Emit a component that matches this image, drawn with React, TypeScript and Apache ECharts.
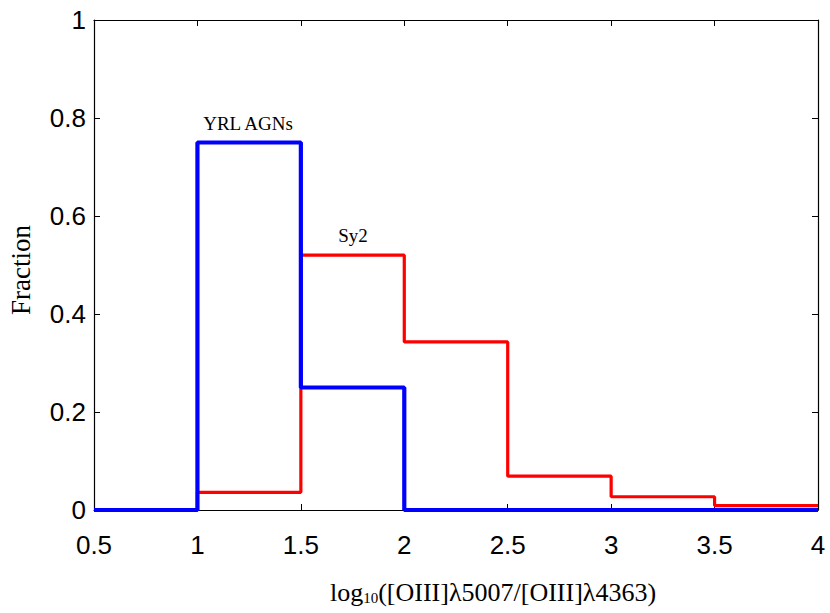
import React, { useEffect, useRef } from "react";
import * as echarts from "echarts";

const binEdges = [0.5, 1, 1.5, 2, 2.5, 3, 3.5, 4];
const yrlFractions = [0, 0.75, 0.25, 0, 0, 0, 0];
const sy2Fractions = [0, 0.036, 0.52, 0.343, 0.069, 0.027, 0.009];
const xTicks = [0.5, 1, 1.5, 2, 2.5, 3, 3.5, 4];
const yTicks = [0, 0.2, 0.4, 0.6, 0.8, 1];

function stepPoints(vals: number[]) {
  const pts: number[][] = vals.map((v, i) => [binEdges[i], v]);
  pts.push([binEdges[binEdges.length - 1], vals[vals.length - 1]]);
  return pts;
}

const sans = "Liberation Sans, Arial, sans-serif";
const serif = "Liberation Serif, Times New Roman, serif";

export default function App() {
  const ref = useRef<HTMLDivElement>(null);
  useEffect(() => {
    if (!ref.current) return;
    const chart = echarts.init(ref.current, undefined, { renderer: "svg" });
    const fmt = (v: number) => String(Math.round(v * 10) / 10);
    const axisCommon = {
      axisLine: { show: true, onZero: false, lineStyle: { color: "#000", width: 1.2 } },
      axisTick: { show: true, inside: true, length: 6, lineStyle: { color: "#000", width: 1 } },
      splitLine: { show: false },
    };
    chart.setOption({
      animation: false,
      backgroundColor: "#fff",
      grid: { left: 94, right: 12, top: 20, bottom: 103, containLabel: false },
      xAxis: [
        {
          type: "value", min: 0.5, max: 4, interval: 0.5, position: "bottom",
          ...axisCommon,
          axisLabel: {
            show: true, margin: 22, fontSize: 26, color: "#000", fontFamily: sans,
            formatter: (v: number) => (xTicks.includes(v) ? fmt(v) : ""),
          },
        },
        {
          type: "value", min: 0.5, max: 4, interval: 0.5, position: "top",
          ...axisCommon,
          axisLabel: { show: false },
        },
      ],
      yAxis: [
        {
          type: "value", min: 0, max: 1, interval: 0.2, position: "left",
          ...axisCommon,
          axisLabel: {
            show: true, margin: 8, fontSize: 26, color: "#000", fontFamily: sans,
            formatter: (v: number) => (yTicks.some((t) => Math.abs(t - v) < 1e-9) ? fmt(v) : ""),
          },
        },
        {
          type: "value", min: 0, max: 1, interval: 0.2, position: "right",
          ...axisCommon,
          axisLabel: { show: false },
        },
      ],
      series: [
        {
          type: "line", name: "Sy2", step: "end", data: stepPoints(sy2Fractions),
          symbol: "none", lineStyle: { color: "#ff0000", width: 3.2 },
          xAxisIndex: 0, yAxisIndex: 0, z: 2,
        },
        {
          type: "line", name: "YRL AGNs", step: "end", data: stepPoints(yrlFractions),
          symbol: "none", lineStyle: { color: "#0000ff", width: 4.2 },
          xAxisIndex: 0, yAxisIndex: 0, z: 3,
        },
      ],
      graphic: [
        {
          type: "text", x: 248, y: 123,
          style: { text: "YRL AGNs", fontFamily: serif, fontSize: 19, fill: "#000", align: "center", verticalAlign: "middle" },
        },
        {
          type: "text", x: 353, y: 235,
          style: { text: "Sy2", fontFamily: serif, fontSize: 19, fill: "#000", align: "center", verticalAlign: "middle" },
        },
        {
          type: "text", x: 21, y: 270, rotation: Math.PI / 2,
          style: { text: "Fraction", fontFamily: serif, fontSize: 27, fill: "#000", align: "center", verticalAlign: "middle" },
        },
        {
          type: "text", x: 493, y: 590,
          style: {
            text: "{a|log}{s|10}{a|([OIII]λ5007/[OIII]λ4363)}",
            align: "center", verticalAlign: "middle",
            rich: {
              a: { fontFamily: serif, fontSize: 26, fill: "#000", lineHeight: 30, verticalAlign: "bottom" },
              s: { fontFamily: serif, fontSize: 15, fill: "#000", lineHeight: 18, verticalAlign: "bottom" },
            },
          },
        },
      ],
    });
    return () => chart.dispose();
  }, []);
  return <div ref={ref} style={{ width: 830, height: 613, position: "absolute", left: 0, top: 0 }} />;
}
